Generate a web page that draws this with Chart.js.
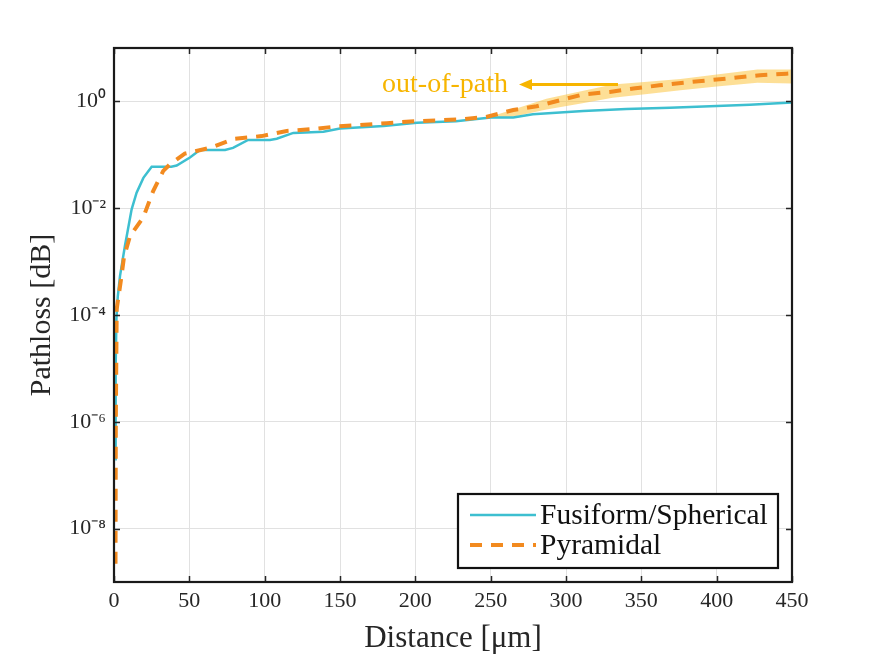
<!DOCTYPE html>
<html><head><meta charset="utf-8">
<script src="https://cdn.jsdelivr.net/npm/chart.js@4.4.1/dist/chart.umd.min.js"></script>
<style>html,body{margin:0;padding:0;background:#fff}</style>
</head><body>
<canvas id="c" width="875" height="657"></canvas>
<script>
// ---- data ----
const seriesNames = ['Fusiform/Spherical', 'Pyramidal'];
const fusiformX = [0.8, 1.1, 1.6, 2.5, 4, 7.3, 11.7, 15, 19.5, 25, 38, 41.6, 50.4, 57, 73.7, 79, 89, 103.5, 108, 119, 139, 150, 179, 201, 227, 250, 265, 278, 311.5, 340, 369, 395.6, 422, 450];
const fusiformY = [2e-7, 1e-5, 8.5e-5, 2.2e-4, 5.4e-4, 2e-3, 9.5e-3, 0.0195, 0.037, 0.06, 0.06, 0.063, 0.089, 0.123, 0.123, 0.135, 0.19, 0.19, 0.20, 0.257, 0.27, 0.31, 0.347, 0.40, 0.427, 0.50, 0.50, 0.575, 0.66, 0.724, 0.76, 0.81, 0.87, 0.955];
const pyramidalX = [1.0, 1.2, 1.8, 4.4, 6.6, 10.6, 19.5, 26, 32.7, 37, 47, 63.7, 80, 98, 114.6, 130, 148, 163, 181, 196.5, 214, 229.6, 247, 265, 280.5, 296, 311.5, 329, 344.7, 362, 378, 395.6, 411, 428.7, 446.5, 450];
const pyramidalY = [2.2e-9, 1e-6, 1.3e-4, 4.1e-4, 1.2e-3, 3.0e-3, 6.8e-3, 0.021, 0.05, 0.066, 0.105, 0.135, 0.20, 0.224, 0.28, 0.30, 0.34, 0.36, 0.39, 0.42, 0.44, 0.46, 0.51, 0.69, 0.81, 1.05, 1.35, 1.5, 1.74, 2.0, 2.24, 2.5, 2.75, 3.1, 3.3, 3.35];
const bandX = [249, 265, 287, 310, 331, 354, 376, 400, 427, 450];
const bandUpper = [0.513, 0.708, 1.12, 1.55, 2.08, 2.34, 2.63, 3.2, 3.96, 3.96];
const bandLower = [0.513, 0.516, 0.708, 0.912, 1.17, 1.38, 1.62, 1.91, 2.24, 2.17];
const xTickValues = [0, 50, 100, 150, 200, 250, 300, 350, 400, 450];
const yTickValues = [1e-8, 1e-6, 1e-4, 1e-2, 1];
const yTickLabels = ['10\u207B\u2078', '10\u207B\u2076', '10\u207B\u2074', '10\u207B\u00B2', '10\u2070'];
const annotationText = 'out-of-path';
const annotationArrow = { x0: 334.5, x1: 268.8, y: 2.08 };
const annotationTextPos = { x: 261.5, y: 2.08 };

const SERIF = "'Liberation Serif', 'Times New Roman', serif";
const INK = '#262626';
const CYAN = '#3dbfd0';
const ORANGE = '#f28a1f';
const GOLD = '#f7b500';

const toPts = (xs, ys) => xs.map((x, i) => ({ x: x, y: ys[i] }));

const framePlugin = {
  id: 'frame',
  afterDraw(chart) {
    const { ctx, chartArea: a, scales } = chart;
    ctx.save();
    // inward tick marks
    ctx.strokeStyle = INK; ctx.lineWidth = 1.5;
    ctx.beginPath();
    xTickValues.forEach(v => {
      const px = Math.round(scales.x.getPixelForValue(v)) + 0.5;
      ctx.moveTo(px, a.bottom); ctx.lineTo(px, a.bottom - 6);
      ctx.moveTo(px, a.top); ctx.lineTo(px, a.top + 6);
    });
    yTickValues.forEach(v => {
      const py = Math.round(scales.y.getPixelForValue(v)) + 0.5;
      ctx.moveTo(a.left, py); ctx.lineTo(a.left + 6, py);
      ctx.moveTo(a.right, py); ctx.lineTo(a.right - 6, py);
    });
    ctx.stroke();
    // box
    ctx.strokeStyle = '#1a1a1a'; ctx.lineWidth = 2.2;
    ctx.strokeRect(a.left, a.top, a.right - a.left, a.bottom - a.top);

    // annotation
    const ay = scales.y.getPixelForValue(annotationArrow.y);
    const ax0 = scales.x.getPixelForValue(annotationArrow.x0);
    const ax1 = scales.x.getPixelForValue(annotationArrow.x1);
    ctx.strokeStyle = GOLD; ctx.fillStyle = GOLD; ctx.lineWidth = 3;
    ctx.beginPath(); ctx.moveTo(ax0, ay); ctx.lineTo(ax1 + 10, ay); ctx.stroke();
    ctx.beginPath(); ctx.moveTo(ax1, ay); ctx.lineTo(ax1 + 13, ay - 5.5); ctx.lineTo(ax1 + 13, ay + 5.5); ctx.closePath(); ctx.fill();
    ctx.font = '28px ' + SERIF; ctx.textAlign = 'right'; ctx.textBaseline = 'middle';
    ctx.fillText(annotationText, scales.x.getPixelForValue(annotationTextPos.x), scales.y.getPixelForValue(annotationTextPos.y));

    // legend
    const lw = 320, lh = 74;
    const lx = a.right - 14 - lw, ly = a.bottom - 14 - lh;
    ctx.fillStyle = '#fff';
    ctx.fillRect(lx, ly, lw, lh);
    ctx.strokeStyle = '#111'; ctx.lineWidth = 2.2;
    ctx.strokeRect(lx, ly, lw, lh);
    const items = chart.data.datasets.filter(d => d.label);
    items.forEach((d, i) => {
      const cy = ly + 21 + i * 30;
      ctx.strokeStyle = d.borderColor; ctx.lineWidth = d.borderWidth;
      ctx.setLineDash(d.borderDash || []);
      ctx.beginPath(); ctx.moveTo(lx + 12, cy); ctx.lineTo(lx + 78, cy); ctx.stroke();
      ctx.setLineDash([]);
      ctx.fillStyle = '#111'; ctx.font = '29.5px ' + SERIF;
      ctx.textAlign = 'left'; ctx.textBaseline = 'middle';
      ctx.fillText(d.label, lx + 82, cy + 1);
    });
    ctx.restore();
  }
};

new Chart(document.getElementById('c'), {
  type: 'line',
  data: {
    datasets: [
      { label: seriesNames[0], data: toPts(fusiformX, fusiformY), borderColor: CYAN, borderWidth: 2.5, pointRadius: 0, tension: 0, fill: false, order: 1 },
      { label: seriesNames[1], data: toPts(pyramidalX, pyramidalY), borderColor: ORANGE, borderWidth: 4, borderDash: [12, 9], pointRadius: 0, tension: 0, fill: false, order: 0 },
      { label: '', data: toPts(bandX, bandUpper), borderWidth: 0, borderColor: 'rgba(0,0,0,0)', backgroundColor: 'rgba(252,196,64,0.55)', pointRadius: 0, tension: 0, fill: 3, order: 2 },
      { label: '', data: toPts(bandX, bandLower), borderWidth: 0, borderColor: 'rgba(0,0,0,0)', pointRadius: 0, tension: 0, fill: false, order: 3 }
    ]
  },
  options: {
    responsive: false,
    animation: false,
    devicePixelRatio: 1,
    layout: { padding: { left: 0, top: 48, right: 83, bottom: 0 } },
    plugins: { legend: { display: false }, tooltip: { enabled: false } },
    scales: {
      x: {
        type: 'linear', min: 0, max: 450,
        afterFit: s => { s.height = 75; },
        afterBuildTicks: s => { s.ticks = xTickValues.map(v => ({ value: v })); },
        ticks: { color: INK, font: { family: SERIF, size: 22 }, padding: 6, maxRotation: 0, callback: v => String(v) },
        grid: { color: '#e1e1e1', lineWidth: 1, drawTicks: false },
        border: { display: false },
        title: { display: true, text: 'Distance [\u03BCm]', color: INK, font: { family: SERIF, size: 31 }, padding: { top: 0, bottom: 0 } }
      },
      y: {
        type: 'logarithmic', min: 1e-9, max: 10,
        afterFit: s => { s.width = 114; },
        afterBuildTicks: s => { s.ticks = yTickValues.map(v => ({ value: v })); },
        ticks: { color: INK, font: { family: SERIF, size: 22 }, padding: 8, autoSkip: false,
          callback: v => { const i = yTickValues.findIndex(t => Math.abs(Math.log10(t) - Math.log10(v)) < 1e-6); return i >= 0 ? yTickLabels[i] : ''; } },
        grid: { color: '#e1e1e1', lineWidth: 1, drawTicks: false },
        border: { display: false },
        title: { display: true, text: 'Pathloss [dB]', color: INK, font: { family: SERIF, size: 30 }, padding: { top: 24, bottom: 0 } }
      }
    }
  },
  plugins: [framePlugin]
});
</script>
</body></html>
